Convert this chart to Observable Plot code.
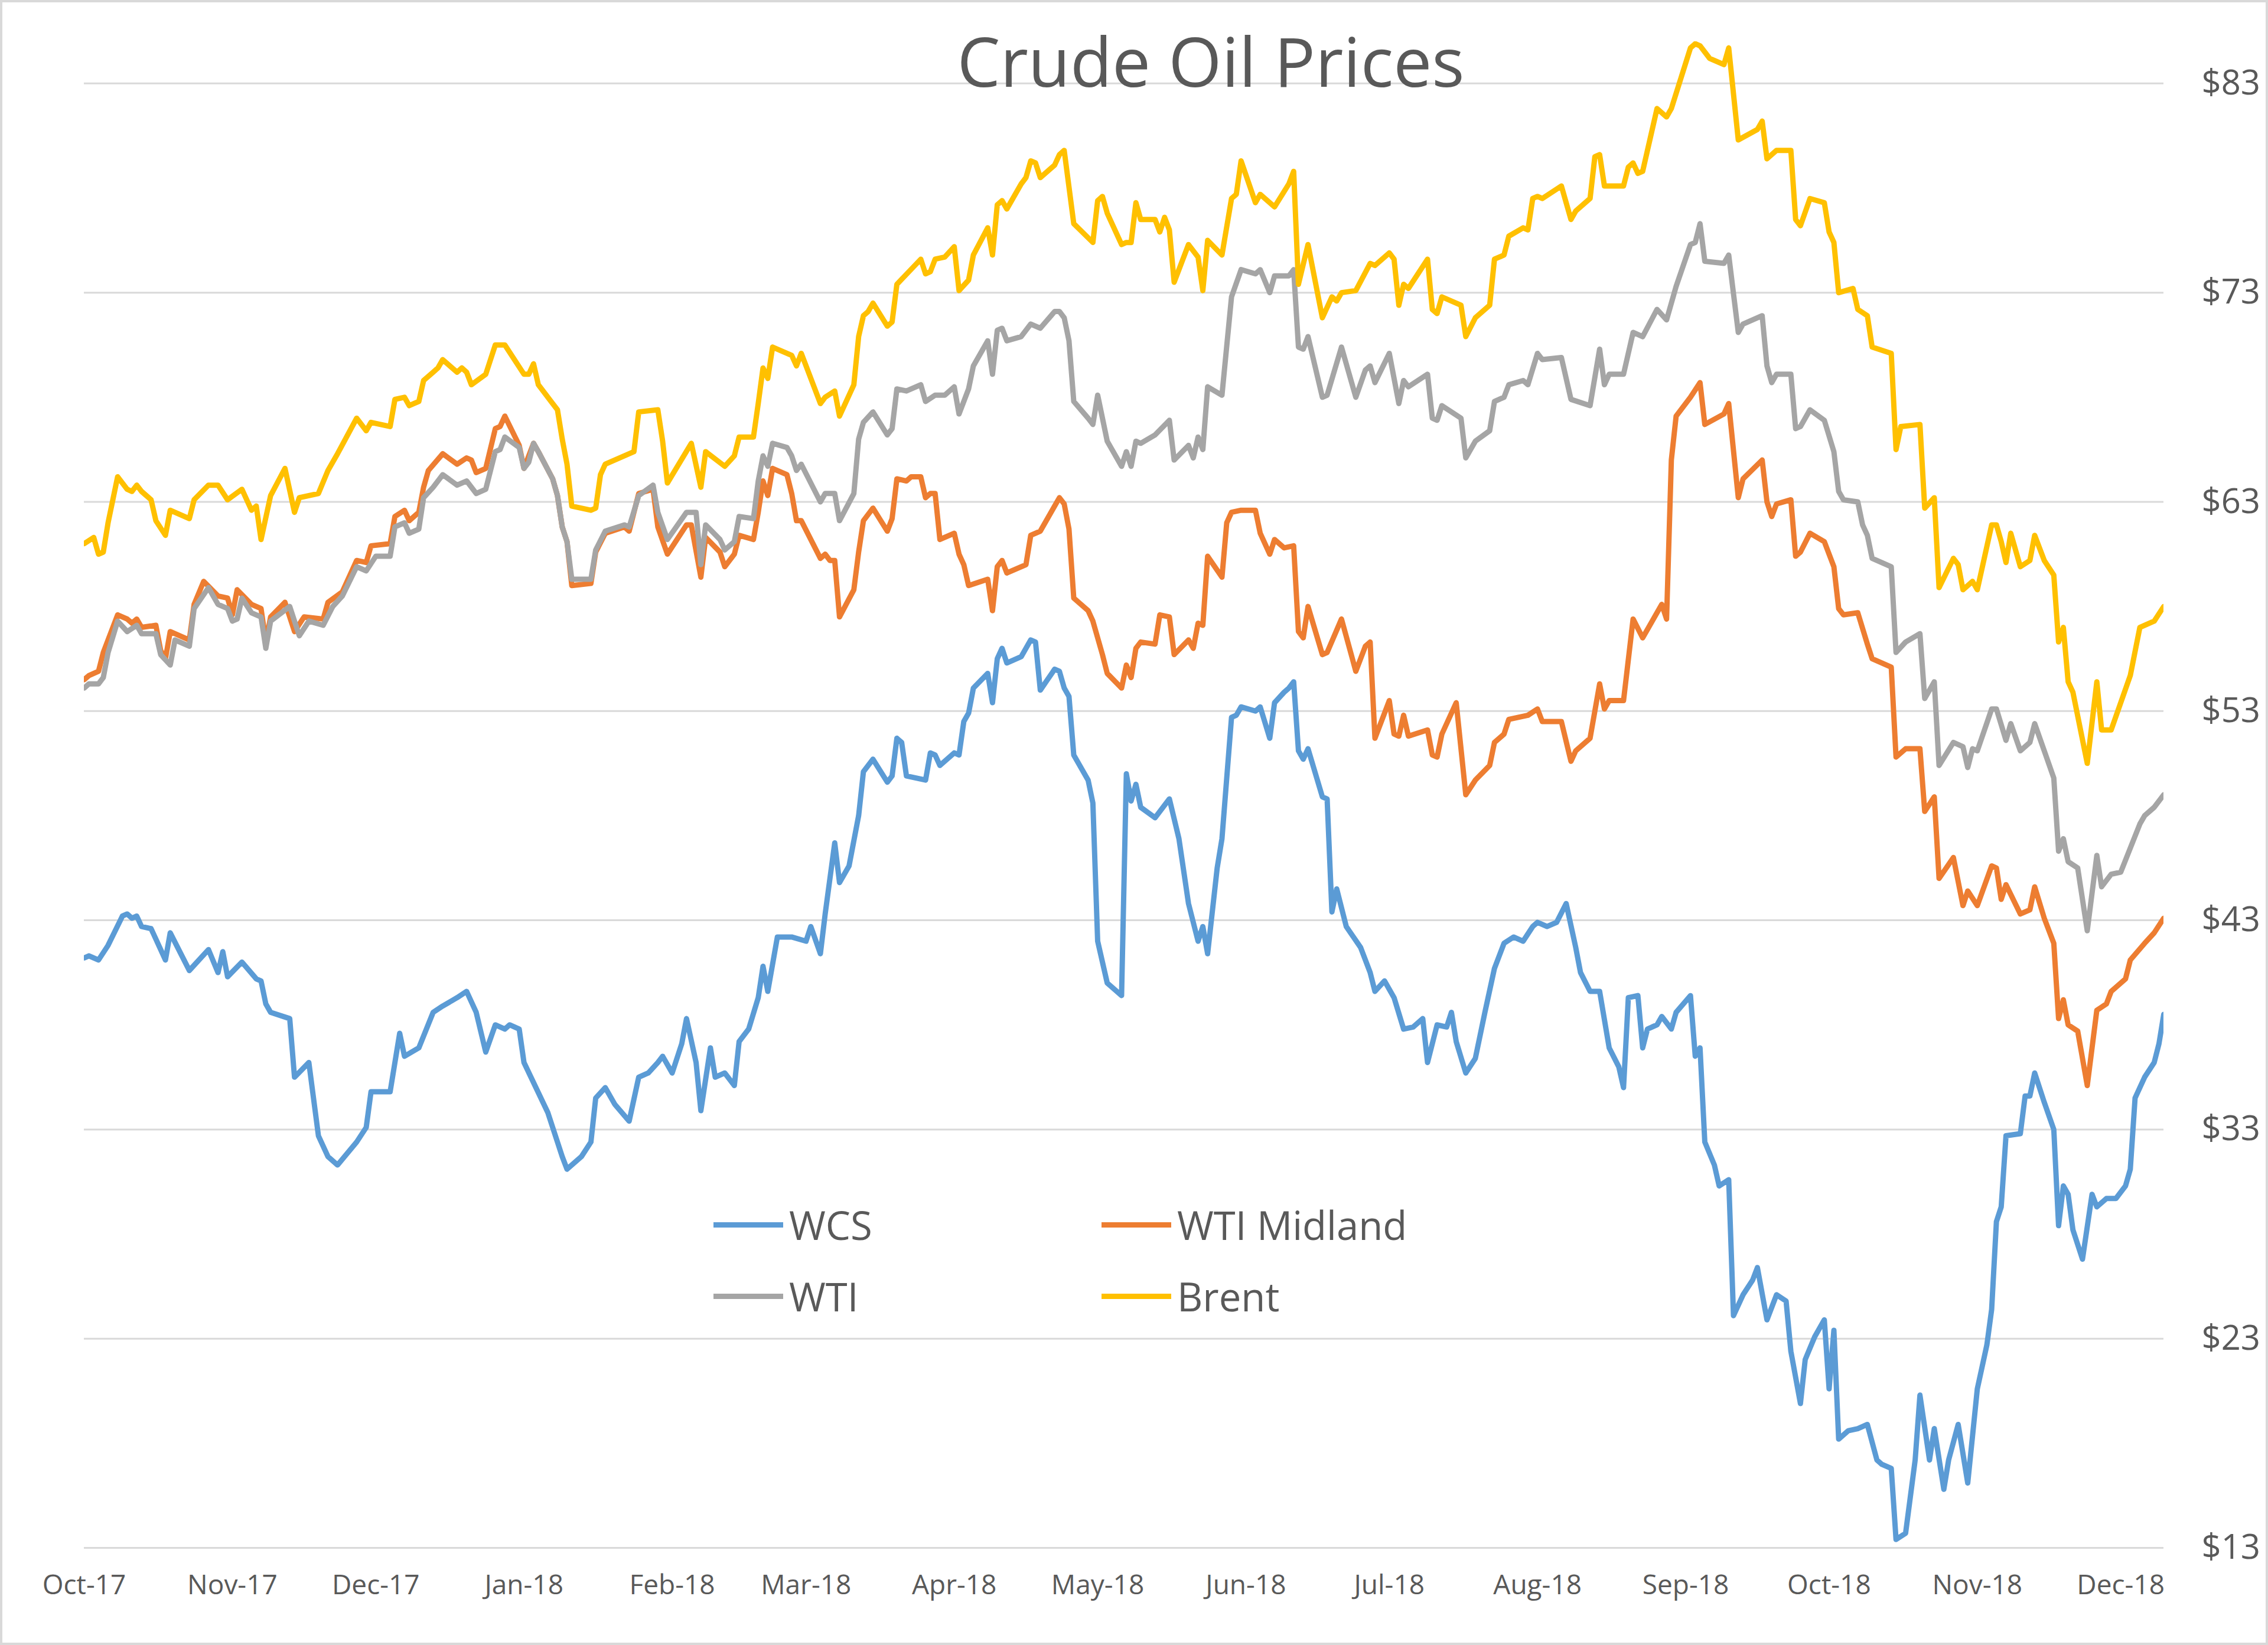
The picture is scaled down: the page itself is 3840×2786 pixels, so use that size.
<!DOCTYPE html>
<html>
<head>
<meta charset="utf-8">
<script src="https://cdn.jsdelivr.net/npm/d3@7"></script>
<script src="https://cdn.jsdelivr.net/npm/@observablehq/plot@0.6"></script>
<style>
html, body { margin: 0; padding: 0; background: #ffffff; }
#wrap { position: relative; width: 3840px; height: 2786px; overflow: hidden; font-family: "Open Sans", sans-serif; background: #fff; }
#chart { position: absolute; left: 0; top: 0; }
#frame { position: absolute; left: 0; top: 0; width: 3840px; height: 2786px; box-sizing: border-box; border: 4px solid #d9d9d9; pointer-events: none; }
#title { position: absolute; left: 2050px; top: 44px; transform: translateX(-50%); font-size: 116px; line-height: 1; color: #595959; white-space: nowrap; }
.item { position: absolute; height: 66px; display: flex; align-items: center; }
.swatch { width: 118px; height: 9px; margin-right: 10px; }
.label { font-size: 67px; line-height: 66px; color: #595959; white-space: nowrap; }
</style>
</head>
<body>
<div id="wrap">
  <div id="chart"></div>
  <div id="title">Crude Oil Prices</div>
  <div id="legend"></div>
  <div id="frame"></div>
</div>
<script>
// Day offsets from 2017-10-01 and prices ($/bbl)
const startDate = "2017-10-01";

const wcsDay = [0,1,3,5,8,9,10,11,12,14,16,17,18,22,26,28,29,30,33,36,37,38,39,43,44,47,49,51,53,57,59,60,64,66,67,70,73,75,78,80,82,84,86,88,89,91,92,97,100,101,104,106,107,109,111,114,116,118,120,121,123,125,126,128,129,131,132,134,136,137,139,141,142,143,145,148,151,152,154,155,157,158,160,162,163,165,168,169,170,171,172,176,177,178,179,182,183,184,185,186,189,190,191,192,193,196,198,199,200,203,204,205,206,207,210,211,212,214,217,218,219,220,221,224,227,229,231,233,234,235,237,238,240,241,242,245,246,248,249,251,252,253,254,255,256,259,260,261,262,264,267,269,270,272,274,276,278,280,281,283,285,286,287,289,291,293,295,297,299,301,303,304,306,308,310,312,313,315,317,319,321,322,323,325,326,327,329,330,332,333,336,337,338,339,341,342,344,345,347,349,350,352,354,356,357,359,360,362,364,365,366,367,369,371,373,375,376,378,379,381,383,384,386,387,389,390,392,393,394,396,398,399,400,401,402,405,406,407,408,410,412,413,414,415,416,418,420,421,423,425,427,428,429,431,433,434,435];
const wcsPrice = [41.2,41.3,41.1,41.8,43.2,43.3,43.1,43.2,42.7,42.6,41.6,41.1,42.4,40.6,41.6,40.5,41.5,40.3,41.0,40.2,40.1,39.0,38.6,38.3,35.5,36.2,32.7,31.7,31.3,32.4,33.1,34.8,34.8,37.6,36.5,36.9,38.6,38.9,39.3,39.6,38.6,36.7,38.0,37.8,38.0,37.8,36.2,33.8,31.7,31.1,31.7,32.4,34.5,35.0,34.2,33.4,35.5,35.7,36.2,36.5,35.7,37.1,38.3,36.2,33.9,36.9,35.5,35.7,35.1,37.2,37.8,39.3,40.8,39.6,42.2,42.2,42.0,42.7,41.4,43.3,46.7,44.8,45.6,48.0,50.1,50.7,49.6,49.9,51.7,51.5,49.9,49.7,51.0,50.9,50.4,51.0,50.9,52.5,52.9,54.1,54.8,53.4,55.5,56.0,55.3,55.6,56.4,56.3,54.0,55.0,54.9,54.1,53.7,50.9,49.7,48.6,42.0,40.0,39.4,50.0,48.7,49.5,48.4,47.9,48.8,46.9,43.8,42.0,42.7,41.4,45.5,46.9,52.7,52.8,53.2,53.0,53.2,51.7,53.4,53.9,54.1,54.4,51.1,50.7,51.2,48.9,48.8,43.4,44.5,42.7,41.7,40.5,39.6,40.1,39.3,37.8,37.9,38.3,36.2,38.0,37.9,38.6,37.2,35.7,36.4,38.6,40.7,41.9,42.2,42.0,42.7,42.9,42.7,42.9,43.8,41.7,40.5,39.6,39.6,36.9,36.0,35.0,39.3,39.4,36.9,37.8,38.0,38.4,37.8,38.6,39.4,36.5,36.9,32.4,31.3,30.3,30.6,24.1,25.1,25.8,26.4,23.9,25.1,24.8,22.4,19.9,22.0,23.1,23.9,20.6,23.4,18.2,18.6,18.7,18.9,17.2,17.0,16.8,13.4,13.7,17.2,20.3,17.2,18.7,15.8,17.2,18.9,17.5,16.1,20.6,22.7,24.4,28.6,29.3,32.7,32.8,34.6,34.6,35.7,34.3,33.0,28.4,30.3,29.9,28.2,26.8,29.9,29.3,29.7,29.7,30.3,31.1,34.5,35.5,36.2,37.1,38.5];

const midlandDay = [0,1,3,4,7,9,10,11,12,15,16,17,18,22,23,25,28,30,31,32,35,37,38,39,42,44,46,50,51,54,57,59,60,64,65,67,68,70,71,72,75,78,80,81,82,84,86,87,88,91,92,94,95,98,99,100,101,102,106,107,109,113,114,116,119,120,122,126,127,129,130,133,134,136,137,140,141,142,143,144,147,148,149,150,154,155,156,157,158,161,162,163,165,168,169,170,172,173,175,176,177,178,179,182,183,184,185,189,190,191,192,193,197,198,200,203,204,205,206,207,210,211,213,214,217,218,219,220,221,224,225,227,228,231,232,233,234,235,238,239,240,242,245,246,248,249,251,253,254,255,256,259,260,263,266,268,269,270,273,274,275,276,277,281,282,283,284,287,289,291,294,295,297,298,302,304,305,309,311,312,315,317,318,319,322,324,326,330,331,332,333,336,338,339,343,344,346,347,351,352,353,354,357,358,359,361,364,366,367,368,371,373,374,378,379,381,384,385,387,388,391,393,394,396,399,400,401,402,405,407,408,410,412,413,414,415,417,419,421,423,424,427,428,431,433,435];
const midlandPrice = [54.5,54.7,54.9,55.8,57.6,57.4,57.2,57.4,57.0,57.1,55.9,55.5,56.8,56.4,58.1,59.2,58.5,58.4,57.6,58.8,58.1,57.9,56.3,57.5,58.2,56.8,57.5,57.4,58.2,58.7,60.2,60.1,60.9,61.0,62.3,62.6,62.1,62.5,63.7,64.5,65.3,64.8,65.1,65.0,64.4,64.6,66.5,66.6,67.1,65.7,64.6,65.8,65.4,64.1,63.3,61.8,61.1,59.0,59.1,60.6,61.5,61.8,61.6,63.4,63.6,61.8,60.5,61.9,61.9,59.4,61.3,60.6,59.9,60.5,61.4,61.2,62.5,64.0,63.3,64.6,64.3,63.4,62.1,62.1,60.3,60.5,60.2,60.2,57.5,58.8,60.6,62.1,62.7,61.6,62.2,64.1,64.0,64.2,64.2,63.2,63.4,63.4,61.2,61.5,60.5,60.0,59.0,59.3,57.8,59.9,60.2,59.6,60.0,61.4,61.6,62.8,63.2,62.9,61.7,58.4,57.8,57.3,55.7,54.8,54.1,55.2,54.6,56.0,56.3,56.2,57.6,57.5,55.7,56.4,56.0,57.2,57.1,60.4,59.4,62.0,62.5,62.6,62.6,61.5,60.5,61.2,60.8,60.9,56.8,56.5,58.0,55.7,55.8,57.4,54.9,56.1,56.3,51.7,53.5,51.9,51.8,52.8,51.8,52.1,50.9,50.8,51.9,53.4,49.0,49.7,50.4,51.5,51.9,52.6,52.8,53.1,52.5,52.5,50.6,51.1,51.7,54.3,53.1,53.5,53.5,57.4,56.5,58.1,57.4,65.0,67.1,68.0,68.7,66.7,67.2,67.7,63.2,64.1,65.0,63.0,62.3,62.9,63.1,60.4,60.6,61.5,61.1,59.9,57.9,57.6,57.7,56.2,55.5,55.1,50.8,51.2,51.2,48.2,48.9,45.0,46.0,43.7,44.4,43.7,45.6,45.5,44.0,44.7,43.3,43.5,44.6,43.1,41.9,38.3,39.2,38.0,37.7,35.1,38.7,39.0,39.6,40.2,41.1,41.9,42.4,43.1];

const wtiDay = [0,1,3,4,5,7,9,11,12,15,16,18,19,22,23,26,28,30,31,32,33,35,37,38,39,43,45,47,50,52,54,57,59,61,64,65,67,68,70,71,73,75,78,80,82,84,86,87,88,91,92,93,94,95,98,99,100,101,102,106,107,109,113,114,116,119,120,122,126,128,129,130,133,134,136,137,140,141,142,143,144,147,148,149,150,154,155,157,158,161,162,163,165,168,169,170,172,175,176,178,180,182,183,185,186,189,190,191,192,193,196,198,200,203,204,205,206,207,210,211,212,214,217,218,219,220,221,224,227,228,231,232,233,234,235,238,240,242,245,246,248,249,252,253,254,255,256,259,260,263,266,268,269,270,273,275,276,277,281,282,283,284,288,289,291,294,295,297,298,301,302,304,305,309,311,315,317,318,319,322,324,326,329,331,333,336,337,338,339,343,344,346,347,351,352,353,354,357,358,359,361,364,366,367,368,371,372,373,374,378,379,381,384,385,387,388,391,393,394,395,396,399,400,402,403,405,407,408,410,412,413,414,415,417,419,421,422,424,426,430,431,433,435];
const wtiPrice = [54.1,54.3,54.3,54.6,55.8,57.3,56.8,57.1,56.7,56.7,55.7,55.2,56.4,56.1,57.9,58.9,58.1,57.9,57.3,57.4,58.4,57.7,57.5,56.0,57.3,58.0,56.6,57.3,57.1,58.0,58.5,59.9,59.7,60.4,60.4,61.8,62.0,61.5,61.7,63.2,63.7,64.3,63.8,64.0,63.4,63.6,65.4,65.5,66.1,65.6,64.6,64.9,65.8,65.4,64.1,63.3,61.8,61.1,59.3,59.3,60.7,61.6,61.9,61.8,63.3,63.8,62.5,61.2,62.5,62.5,60.0,61.9,61.2,60.7,61.1,62.3,62.2,64.0,65.2,64.7,65.8,65.6,65.2,64.5,64.8,63.0,63.4,63.4,62.1,63.4,66.0,66.8,67.3,66.2,66.5,68.4,68.3,68.6,67.8,68.1,68.1,68.5,67.2,68.4,69.5,70.7,69.1,71.2,71.3,70.7,70.9,71.5,71.3,72.1,72.1,71.8,70.7,67.8,67.0,66.7,68.1,65.9,64.7,65.4,64.7,65.9,65.8,66.2,66.9,65.0,65.7,65.1,66.1,65.5,68.5,68.1,72.8,74.1,73.9,74.1,73.0,73.8,73.8,74.1,70.4,70.3,70.9,68.0,68.1,70.4,68.0,69.3,69.5,68.7,70.1,67.7,68.8,68.5,69.1,67.0,66.9,67.6,67.0,65.1,65.9,66.4,67.8,68.0,68.6,68.8,68.6,70.1,69.8,69.9,67.9,67.6,70.3,68.6,69.1,69.1,71.1,70.9,72.2,71.7,73.3,75.3,75.4,76.3,74.5,74.4,74.8,71.1,71.5,71.9,69.5,68.7,69.1,69.1,66.5,66.6,67.4,66.9,65.4,63.5,63.1,63.0,61.9,61.4,60.3,59.9,55.8,56.3,56.7,53.6,54.4,50.4,51.5,51.3,50.3,51.2,51.1,53.1,53.1,51.6,52.4,51.1,51.5,52.4,51.1,49.8,46.3,46.9,45.8,45.5,42.5,46.1,44.6,45.2,45.3,47.6,48.0,48.4,49.0];

const brentDay = [0,2,3,4,5,7,9,10,11,12,14,15,17,18,22,23,26,28,30,33,35,36,37,39,42,44,45,49,51,53,57,59,60,64,65,67,68,70,71,73,74,75,78,79,80,81,84,86,88,92,93,94,95,98,99,100,101,102,106,107,108,109,115,116,120,121,122,127,129,130,134,136,137,140,141,142,143,144,148,149,150,154,155,157,158,161,162,163,164,165,168,169,170,175,176,177,178,180,182,183,185,186,189,190,191,192,193,196,197,198,199,200,203,204,205,207,211,212,213,214,217,218,219,220,221,224,225,226,227,228,231,233,234,235,238,240,241,242,245,246,249,252,253,254,256,259,261,262,263,266,269,270,273,274,275,276,277,281,282,283,284,288,289,291,294,295,297,298,301,302,303,304,305,309,311,312,315,316,317,318,322,323,324,325,326,329,331,332,336,337,338,340,343,344,346,350,351,352,354,357,358,359,361,364,365,366,367,370,371,373,374,378,379,380,384,385,387,388,391,392,393,395,396,399,400,401,402,403,405,407,408,410,412,413,414,415,416,419,421,422,424,428,430,433,435];
const brentPrice = [61.0,61.3,60.5,60.6,62.0,64.2,63.6,63.5,63.8,63.5,63.1,62.1,61.4,62.6,62.2,63.1,63.8,63.8,63.1,63.6,62.6,62.8,61.2,63.3,64.6,62.5,63.2,63.4,64.5,65.3,67.0,66.4,66.8,66.6,67.9,68.0,67.6,67.8,68.8,69.2,69.4,69.8,69.2,69.4,69.2,68.6,69.1,70.5,70.5,69.1,69.1,69.6,68.6,67.7,67.4,66.0,64.8,62.8,62.6,62.7,64.3,64.8,65.4,67.3,67.4,65.9,63.9,65.8,63.7,65.4,64.7,65.2,66.1,66.1,67.7,69.4,68.9,70.4,70.0,69.5,70.1,67.7,68.0,68.3,67.1,68.6,70.9,71.9,72.1,72.5,71.4,71.6,73.4,74.6,73.9,74.0,74.6,74.7,75.2,73.1,73.6,74.8,76.1,74.8,77.2,77.4,77.0,78.2,78.5,79.3,79.2,78.5,79.1,79.6,79.8,76.3,75.4,77.4,77.6,76.8,75.3,75.4,75.4,77.3,76.5,76.5,75.9,76.6,76.0,73.5,75.3,74.7,73.1,75.5,74.8,77.5,77.7,79.3,77.3,77.7,77.1,78.2,78.8,73.4,75.3,71.8,72.8,72.6,73.0,73.1,74.4,74.3,74.9,74.6,72.4,73.4,73.2,74.6,72.2,72.0,72.8,72.4,70.9,71.8,72.4,74.6,74.8,75.7,76.1,76.0,77.5,77.6,77.5,78.1,76.5,76.9,77.5,79.5,79.6,78.1,78.1,79.0,79.2,78.7,78.8,81.8,81.4,81.8,84.7,84.9,84.8,84.2,83.9,84.7,80.3,80.8,81.2,79.4,79.8,79.8,76.5,76.2,77.5,77.3,75.9,75.4,73.0,73.2,72.2,71.9,70.4,70.1,65.5,66.6,66.7,62.7,63.2,58.9,60.3,60.0,58.8,59.2,58.8,61.9,61.9,61.1,60.1,61.5,59.9,60.2,61.4,60.2,59.5,56.3,57.0,54.4,53.9,50.5,54.4,52.1,52.1,54.7,57.0,57.3,58.0];

const seriesNames = ["WCS", "WTI Midland", "WTI", "Brent"];
const seriesColors = ["#5B9BD5", "#ED7D31", "#A5A5A5", "#FFC000"];
const yTicks = [13, 23, 33, 43, 53, 63, 73, 83];
const yDomain = [13, 85];
const lastDay = 435;

const start = new Date(startDate + "T00:00:00Z");
const toDate = d => d3.utcDay.offset(start, d);
const seriesData = [
  [wcsDay, wcsPrice],
  [midlandDay, midlandPrice],
  [wtiDay, wtiPrice],
  [brentDay, brentPrice]
];
const rows = seriesData.flatMap(([days, prices], k) =>
  days.map((d, i) => ({series: seriesNames[k], date: toDate(d), price: prices[i]}))
);
const monthTicks = d3.utcMonth.range(start, toDate(lastDay + 1));

const chart = Plot.plot({
  width: 3840,
  height: 2786,
  marginLeft: 142,
  marginRight: 177,
  marginTop: 70,
  marginBottom: 165,
  style: {fontFamily: "'Open Sans', sans-serif", background: "transparent"},
  x: {type: "utc", domain: [start, toDate(lastDay)]},
  y: {domain: yDomain},
  color: {domain: seriesNames, range: seriesColors},
  marks: [
    Plot.gridY(yTicks, {stroke: "#d9d9d9", strokeOpacity: 1, strokeWidth: 3}),
    Plot.axisY(yTicks, {anchor: "right", tickSize: 0, tickPadding: 64, tickFormat: d => "$" + d, fontSize: 58, fill: "#595959", label: null}),
    Plot.axisX(monthTicks, {anchor: "bottom", tickSize: 0, tickPadding: 46, tickFormat: d3.utcFormat("%b-%y"), fontSize: 46, fill: "#595959", label: null}),
    Plot.line(rows, {x: "date", y: "price", z: "series", stroke: "series", strokeWidth: 9, strokeLinejoin: "round", strokeLinecap: "round", clip: true})
  ]
});
document.getElementById("chart").appendChild(chart);

// Legend (two columns, inside the plot)
const legendPos = [[1208, 2074], [1865, 2074], [1208, 2195], [1865, 2195]];
const legend = document.getElementById("legend");
seriesNames.forEach((name, i) => {
  const item = document.createElement("div");
  item.className = "item";
  item.style.left = legendPos[i][0] + "px";
  item.style.top = (legendPos[i][1] - 33) + "px";
  const sw = document.createElement("span");
  sw.className = "swatch";
  sw.style.background = seriesColors[i];
  const lb = document.createElement("span");
  lb.className = "label";
  lb.textContent = name;
  item.appendChild(sw);
  item.appendChild(lb);
  legend.appendChild(item);
});
</script>
</body>
</html>
